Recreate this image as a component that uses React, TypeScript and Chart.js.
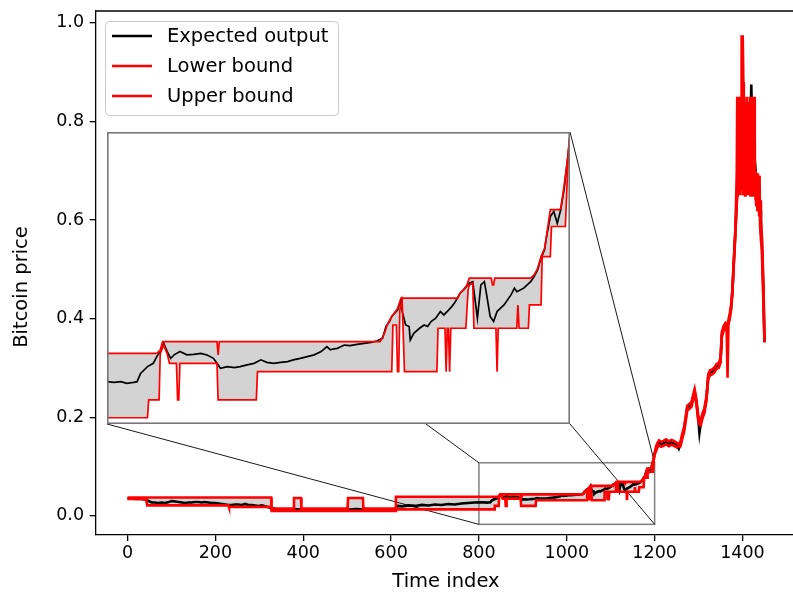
import React, { useEffect, useRef } from "react";
import { Chart, registerables } from "chart.js";

Chart.register(...registerables);

const FONT = "'DejaVu Sans', sans-serif";

const xTickValues = [0, 200, 400, 600, 800, 1000, 1200, 1400];
const yTickValues = [0, 0.2, 0.4, 0.6, 0.8, 1.0];
const legendLabels = ["Expected output", "Lower bound", "Upper bound"];
const axisTitles = { x: "Time index", y: "Bitcoin price" };

// zoomed window (index range) and the rectangle drawn on the main axes
const zoomIndexRange = [800, 1200];
const zoomRectValueRange = [-0.0174, 0.1075];
const insetValueRange = [0.0105, 0.127];

const expectedIndex = [
  0, 10, 20, 30, 40, 48, 55, 62, 70, 78,
  86, 94, 101, 108, 116, 124, 131, 139, 146, 154,
  161, 169, 176, 184, 192, 200, 207, 215, 222, 230,
  237, 245, 252, 260, 268, 275, 283, 290, 298, 306,
  315, 327, 340, 360, 380, 400, 420, 450, 480, 500,
  520, 550, 580, 600, 610, 615, 625, 640, 655, 670,
  685, 700, 715, 730, 745, 760, 775, 790,
  800, 806, 812, 817, 823, 826, 829, 835, 840, 843,
  846, 849, 852, 855, 858, 863, 869, 875, 881, 886,
  892, 895, 898, 904, 910, 915, 921, 927, 933, 938,
  944, 950, 956, 961, 967, 973, 979, 985, 990, 993,
  996, 999, 1005, 1010, 1016, 1022, 1028, 1033, 1038, 1041,
  1044, 1046, 1051, 1054, 1055, 1058, 1061, 1062, 1065, 1070,
  1074, 1077, 1080, 1084, 1088, 1091, 1094, 1098, 1101, 1105,
  1108, 1113, 1116, 1118, 1120, 1123, 1126, 1128, 1131, 1134,
  1137, 1143, 1149, 1152, 1154, 1157, 1160, 1163, 1166, 1169,
  1172, 1175, 1178, 1180, 1183, 1186, 1189, 1192, 1195, 1198,
  1200,
  1203, 1206, 1210, 1215, 1220, 1226, 1232, 1238, 1244, 1250,
  1255, 1259, 1263, 1267, 1271, 1274, 1279, 1284, 1288, 1291,
  1295, 1299, 1302, 1305, 1309, 1313, 1318, 1322, 1326, 1331,
  1336, 1341, 1346, 1350, 1353, 1357, 1361, 1365, 1368, 1371,
  1374, 1377, 1380, 1384, 1388, 1391, 1394, 1397, 1400, 1403,
  1406, 1409, 1412, 1415, 1418, 1420, 1422, 1425, 1428, 1431,
  1434, 1437, 1440, 1442, 1444, 1446, 1448, 1450,
];
const expectedValue = [
  0.035, 0.035, 0.034, 0.034, 0.033, 0.030, 0.027, 0.027, 0.026, 0.027,
  0.026, 0.028, 0.030, 0.029, 0.028, 0.027, 0.026, 0.027, 0.027, 0.028,
  0.028, 0.027, 0.028, 0.027, 0.026, 0.026, 0.025, 0.024, 0.023, 0.022,
  0.022, 0.023, 0.023, 0.022, 0.024, 0.022, 0.022, 0.021, 0.020, 0.021,
  0.019, 0.016, 0.013, 0.012, 0.0135, 0.012, 0.0125, 0.012, 0.013, 0.012,
  0.0135, 0.012, 0.0125, 0.013, 0.014, 0.020, 0.019, 0.021, 0.020, 0.022,
  0.021, 0.023, 0.022, 0.024, 0.023, 0.025, 0.026, 0.027,
  0.0274, 0.0271, 0.0274, 0.0267, 0.0271, 0.0274, 0.0307, 0.0334, 0.0347, 0.0374,
  0.0394, 0.0427, 0.0394, 0.0367, 0.0381, 0.0394, 0.0381, 0.0383, 0.0387, 0.0381,
  0.0367, 0.0347, 0.0327, 0.0334, 0.0330, 0.0334, 0.0341, 0.0347, 0.0361, 0.0351,
  0.0347, 0.0351, 0.0354, 0.0361, 0.0367, 0.0374, 0.0381, 0.0394, 0.0414, 0.0401,
  0.0405, 0.0407, 0.0420, 0.0418, 0.0423, 0.0427, 0.0431, 0.0436, 0.0447, 0.0494,
  0.0514, 0.0534, 0.0560, 0.0600, 0.0554, 0.0500, 0.0494, 0.0440, 0.0467, 0.0487,
  0.0500, 0.0494, 0.0514, 0.0527, 0.0554, 0.0540, 0.0554, 0.0574, 0.0594, 0.0627,
  0.0640, 0.0667, 0.0673, 0.0600, 0.0527, 0.0660, 0.0673, 0.0620, 0.0534, 0.0514,
  0.0554, 0.0580, 0.0620, 0.0647, 0.0633, 0.0640, 0.0647, 0.0660, 0.0673, 0.0693,
  0.0720, 0.0767, 0.0800, 0.0860, 0.0933, 0.0953, 0.0906, 0.0960, 0.1046, 0.1166,
  0.1259,
  0.135, 0.142, 0.148, 0.145, 0.147, 0.150, 0.146, 0.149, 0.147, 0.143,
  0.136, 0.146, 0.162, 0.175, 0.198, 0.218, 0.222, 0.226, 0.242, 0.252,
  0.232, 0.200, 0.168, 0.188, 0.203, 0.212, 0.238, 0.282, 0.290, 0.292,
  0.296, 0.303, 0.305, 0.315, 0.368, 0.380, 0.386, 0.381, 0.392, 0.405,
  0.422, 0.455, 0.510, 0.580, 0.660, 0.740, 0.800, 0.830, 0.820, 0.790,
  0.760, 0.720, 0.700, 0.690, 0.760, 0.875, 0.800, 0.760, 0.720, 0.690,
  0.680, 0.660, 0.620, 0.575, 0.560, 0.500, 0.440, 0.352,
];

const lowerIndex = [
  0, 42, 45, 230, 231, 327, 328, 610, 611, 835,
  836, 845, 846, 849, 852, 854, 860, 861, 862, 863,
  895, 896, 929, 930, 1046, 1047, 1050, 1051, 1052, 1053,
  1055, 1057, 1085, 1086, 1092, 1093, 1094, 1095, 1096, 1097,
  1110, 1112, 1113, 1116, 1117, 1136, 1137, 1138, 1154, 1155,
  1156, 1164, 1165, 1175, 1176, 1183, 1184, 1196, 1198, 1200,
  1203, 1206, 1210, 1215, 1220, 1226, 1232, 1238, 1244, 1250,
  1255, 1259, 1263, 1267, 1271, 1274, 1279, 1284, 1288, 1291,
  1295, 1299, 1302, 1305, 1309, 1313, 1318, 1322, 1326, 1331,
  1336, 1341, 1346, 1350, 1353, 1357, 1361, 1364, 1366, 1368,
  1371, 1374, 1377, 1380, 1384, 1387,
  1388, 1389, 1390, 1391, 1392, 1393, 1394, 1395, 1396, 1397,
  1398, 1399, 1400, 1401, 1402, 1403, 1404, 1405, 1406, 1407,
  1408, 1409, 1410, 1411, 1412, 1413, 1414, 1415, 1416, 1417,
  1418, 1419, 1420, 1421, 1422, 1423, 1424, 1425, 1426, 1427,
  1428, 1429, 1430, 1431, 1432, 1433, 1434, 1435, 1436, 1437,
  1438, 1439, 1440,
  1442, 1444, 1446, 1448, 1450,
];
const lowerValue = [
  0.034, 0.034, 0.021, 0.021, 0.018, 0.018, 0.010, 0.010, 0.013, 0.013,
  0.0201, 0.0201, 0.0387, 0.0420, 0.0385, 0.0347, 0.0347, 0.0201, 0.0201, 0.0347,
  0.0347, 0.0201, 0.0201, 0.0314, 0.0314, 0.0500, 0.0500, 0.0314, 0.0314, 0.0560,
  0.0595, 0.0314, 0.0314, 0.0487, 0.0487, 0.0314, 0.0487, 0.0487, 0.0314, 0.0487,
  0.0487, 0.0640, 0.0660, 0.0667, 0.0487, 0.0487, 0.0314, 0.0487, 0.0487, 0.0580,
  0.0487, 0.0487, 0.0580, 0.0580, 0.0773, 0.0773, 0.0893, 0.0893, 0.1120, 0.1259,
  0.130, 0.138, 0.143, 0.140, 0.142, 0.145, 0.141, 0.144, 0.142, 0.139,
  0.140, 0.141, 0.157, 0.170, 0.193, 0.213, 0.217, 0.221, 0.237, 0.247,
  0.227, 0.195, 0.185, 0.183, 0.198, 0.207, 0.233, 0.277, 0.285, 0.287,
  0.291, 0.298, 0.300, 0.310, 0.363, 0.375, 0.381, 0.376, 0.280, 0.387,
  0.400, 0.417, 0.450, 0.505, 0.575, 0.630,
  0.650, 0.780, 0.660, 0.790, 0.670, 0.770, 0.650, 0.780, 0.660, 0.790,
  0.700, 0.760, 0.650, 0.780, 0.670, 0.790, 0.660, 0.770, 0.650, 0.780,
  0.680, 0.790, 0.660, 0.770, 0.650, 0.780, 0.670, 0.790, 0.660, 0.770,
  0.650, 0.780, 0.680, 0.790, 0.660, 0.770, 0.650, 0.780, 0.670, 0.760,
  0.650, 0.680, 0.640, 0.690, 0.630, 0.680, 0.620, 0.690, 0.630, 0.680,
  0.610, 0.670, 0.590,
  0.560, 0.540, 0.480, 0.420, 0.352,
];

const upperIndex = [
  0, 327, 328, 378, 379, 395, 396, 501, 502, 536,
  537, 610, 611, 800, 843, 846, 848, 895, 896, 897,
  1036, 1040, 1042, 1046, 1051, 1054, 1103, 1105, 1108, 1111,
  1113, 1132, 1133, 1134, 1135, 1166, 1169, 1172, 1175, 1178,
  1180, 1183, 1191, 1192, 1195, 1198, 1200,
  1203, 1206, 1210, 1215, 1220, 1226, 1232, 1238, 1244, 1250,
  1255, 1259, 1263, 1267, 1271, 1274, 1279, 1284, 1288, 1291,
  1295, 1299, 1302, 1305, 1309, 1313, 1318, 1322, 1326, 1331,
  1336, 1341, 1346, 1350, 1353, 1357, 1361, 1364, 1366, 1368,
  1371, 1374, 1377, 1380, 1384, 1387,
  1388, 1389, 1390, 1391, 1392, 1393, 1394, 1395, 1396, 1397,
  1398, 1399, 1400, 1401, 1402, 1403, 1404, 1405, 1406, 1407,
  1408, 1409, 1410, 1411, 1412, 1413, 1414, 1415, 1416, 1417,
  1418, 1419, 1420, 1421, 1422, 1423, 1424, 1425, 1426, 1427,
  1428, 1429, 1430, 1431, 1432, 1433, 1434, 1435, 1436, 1437,
  1438, 1439, 1440,
  1442, 1444, 1446, 1448, 1450,
];
const upperValue = [
  0.037, 0.037, 0.0145, 0.0145, 0.036, 0.036, 0.0145, 0.0145, 0.036, 0.036,
  0.0145, 0.0145, 0.0385, 0.0387, 0.0387, 0.0400, 0.0434, 0.0434, 0.0381, 0.0434,
  0.0434, 0.0470, 0.0500, 0.0534, 0.0565, 0.0607, 0.0607, 0.0627, 0.0640, 0.0660,
  0.0687, 0.0687, 0.0660, 0.0660, 0.0687, 0.0687, 0.0700, 0.0725, 0.0773, 0.0805,
  0.0865, 0.0960, 0.0960, 0.0965, 0.1059, 0.1166, 0.1259,
  0.140, 0.147, 0.153, 0.150, 0.152, 0.155, 0.151, 0.154, 0.152, 0.148,
  0.146, 0.151, 0.167, 0.180, 0.203, 0.223, 0.227, 0.231, 0.247, 0.257,
  0.237, 0.205, 0.195, 0.193, 0.208, 0.217, 0.243, 0.287, 0.295, 0.297,
  0.301, 0.308, 0.310, 0.320, 0.373, 0.385, 0.391, 0.386, 0.390, 0.397,
  0.410, 0.427, 0.460, 0.515, 0.585, 0.700,
  0.850, 0.720, 0.850, 0.700, 0.840, 0.730, 0.850, 0.710, 0.850, 0.760,
  0.975, 0.900, 0.960, 0.975, 0.880, 0.850, 0.720, 0.840, 0.700, 0.830,
  0.720, 0.850, 0.700, 0.820, 0.710, 0.840, 0.700, 0.830, 0.720, 0.850,
  0.700, 0.840, 0.720, 0.850, 0.700, 0.850, 0.720, 0.840, 0.700, 0.850,
  0.710, 0.700, 0.695, 0.630, 0.695, 0.640, 0.695, 0.620, 0.690, 0.630,
  0.690, 0.620, 0.640,
  0.600, 0.570, 0.520, 0.460, 0.360,
];

// layout of the inset axes on the page (pixels)
const INSET = { left: 107, top: 132, width: 463, height: 292 };
const ULConnectorEnd = { x: 426, y: 424 };

function pts(xs: number[], ys: number[]) {
  return xs.map((x, i) => ({ x, y: ys[i] }));
}

function makeDatasets(lw: number) {
  return [
    {
      label: legendLabels[0],
      data: pts(expectedIndex, expectedValue),
      borderColor: "#000000",
      borderWidth: lw,
      pointRadius: 0,
      fill: false,
      tension: 0,
      order: 3,
    },
    {
      label: legendLabels[1],
      data: pts(lowerIndex, lowerValue),
      borderColor: "#ff0000",
      borderWidth: lw,
      pointRadius: 0,
      fill: false,
      tension: 0,
      order: 2,
    },
    {
      label: legendLabels[2],
      data: pts(upperIndex, upperValue),
      borderColor: "#ff0000",
      backgroundColor: "#d3d3d3",
      borderWidth: lw,
      pointRadius: 0,
      fill: 1,
      tension: 0,
      order: 1,
    },
  ];
}

const mainDecor = {
  id: "mainDecor",
  beforeDraw(chart: any) {
    const { ctx, width, height } = chart;
    ctx.save();
    ctx.fillStyle = "#ffffff";
    ctx.fillRect(0, 0, width, height);
    ctx.restore();
  },
  beforeDatasetsDraw(chart: any) {
    const { ctx, scales } = chart;
    const xs = scales.x;
    const ys = scales.y;
    const l = xs.getPixelForValue(zoomIndexRange[0]);
    const r = xs.getPixelForValue(zoomIndexRange[1]);
    const t = ys.getPixelForValue(zoomRectValueRange[1]);
    const b = ys.getPixelForValue(zoomRectValueRange[0]);
    ctx.save();
    ctx.strokeStyle = "#808080";
    ctx.lineWidth = 1.5;
    ctx.strokeRect(l, t, r - l, b - t);
    ctx.strokeStyle = "#000000";
    ctx.lineWidth = 0.9;
    const iL = INSET.left;
    const iR = INSET.left + INSET.width;
    const iT = INSET.top;
    const iB = INSET.top + INSET.height;
    const seg = (x1: number, y1: number, x2: number, y2: number) => {
      ctx.beginPath();
      ctx.moveTo(x1, y1);
      ctx.lineTo(x2, y2);
      ctx.stroke();
    };
    seg(l, b, iL, iB);
    seg(r, b, iR, iB);
    seg(r, t, iR, iT);
    seg(l, t, ULConnectorEnd.x, ULConnectorEnd.y);
    ctx.restore();
  },
  afterDraw(chart: any) {
    const { ctx, chartArea } = chart;
    ctx.save();
    // top spine
    ctx.strokeStyle = "#000000";
    ctx.lineWidth = 1.3;
    ctx.beginPath();
    ctx.moveTo(chartArea.left, chartArea.top);
    ctx.lineTo(chartArea.right, chartArea.top);
    ctx.stroke();

    // axis titles
    ctx.fillStyle = "#000000";
    ctx.font = `19.5px ${FONT}`;
    ctx.textAlign = "center";
    ctx.textBaseline = "middle";
    ctx.fillText(axisTitles.x, (chartArea.left + chartArea.right) / 2, 582);
    ctx.save();
    ctx.translate(22, 287);
    ctx.rotate(-Math.PI / 2);
    ctx.fillText(axisTitles.y, 0, 0);
    ctx.restore();

    // legend
    const bx = 105.5, by = 21.5, bw = 233, bh = 94, rad = 4;
    ctx.beginPath();
    ctx.moveTo(bx + rad, by);
    ctx.lineTo(bx + bw - rad, by);
    ctx.quadraticCurveTo(bx + bw, by, bx + bw, by + rad);
    ctx.lineTo(bx + bw, by + bh - rad);
    ctx.quadraticCurveTo(bx + bw, by + bh, bx + bw - rad, by + bh);
    ctx.lineTo(bx + rad, by + bh);
    ctx.quadraticCurveTo(bx, by + bh, bx, by + bh - rad);
    ctx.lineTo(bx, by + rad);
    ctx.quadraticCurveTo(bx, by, bx + rad, by);
    ctx.closePath();
    ctx.fillStyle = "rgba(255,255,255,0.8)";
    ctx.fill();
    ctx.strokeStyle = "#cccccc";
    ctx.lineWidth = 1;
    ctx.stroke();
    const colors = ["#000000", "#ff0000", "#ff0000"];
    legendLabels.forEach((lab, i) => {
      const yy = 36 + i * 30;
      ctx.strokeStyle = colors[i];
      ctx.lineWidth = 2.6;
      ctx.beginPath();
      ctx.moveTo(112, yy);
      ctx.lineTo(152, yy);
      ctx.stroke();
      ctx.fillStyle = "#000000";
      ctx.font = `19.5px ${FONT}`;
      ctx.textAlign = "left";
      ctx.textBaseline = "middle";
      ctx.fillText(lab, 167, yy + 1);
    });
    ctx.restore();
  },
};

const insetDecor = {
  id: "insetDecor",
  beforeDraw(chart: any) {
    const { ctx, width, height } = chart;
    ctx.save();
    ctx.fillStyle = "#ffffff";
    ctx.fillRect(0, 0, width, height);
    ctx.restore();
  },
  afterDraw(chart: any) {
    const { ctx, width, height } = chart;
    ctx.save();
    ctx.strokeStyle = "#777777";
    ctx.lineWidth = 1.6;
    ctx.strokeRect(0.8, 0.8, width - 1.6, height - 1.6);
    ctx.restore();
  },
};

export default function App() {
  const mainRef = useRef<HTMLCanvasElement>(null);
  const insetRef = useRef<HTMLCanvasElement>(null);

  useEffect(() => {
    if (!mainRef.current || !insetRef.current) return;
    const mainChart = new Chart(mainRef.current, {
      type: "line",
      data: { datasets: makeDatasets(2.6) as any },
      options: {
        responsive: false,
        animation: false,
        devicePixelRatio: 1,
        events: [],
        layout: { padding: { left: 0, right: 15.7, top: 11, bottom: 0 } },
        plugins: {
          legend: { display: false },
          tooltip: { enabled: false },
          filler: { drawTime: "beforeDatasetsDraw" },
        } as any,
        scales: {
          x: {
            type: "linear",
            min: -72.5,
            max: 1522.5,
            afterBuildTicks: (s: any) => {
              s.ticks = xTickValues.map((v) => ({ value: v }));
            },
            afterFit: (s: any) => {
              s.height = 59;
              s.paddingLeft = 0;
              s.paddingRight = 0;
            },
            grid: {
              display: true,
              drawOnChartArea: false,
              drawTicks: true,
              tickLength: 6,
              color: "#000000",
              lineWidth: 1.3,
            },
            border: { display: true, color: "#000000", width: 1.3 },
            ticks: {
              color: "#000000",
              font: { family: FONT, size: 17.5 },
              padding: 1.5,
              maxRotation: 0,
              autoSkip: false,
              callback: (v: any) => String(v),
            },
          },
          y: {
            type: "linear",
            min: -0.039,
            max: 1.024,
            afterBuildTicks: (s: any) => {
              s.ticks = yTickValues.map((v) => ({ value: v }));
            },
            afterFit: (s: any) => {
              s.width = 95.65;
              s.paddingTop = 0;
              s.paddingBottom = 0;
            },
            grid: {
              display: true,
              drawOnChartArea: false,
              drawTicks: true,
              tickLength: 6,
              color: "#000000",
              lineWidth: 1.3,
            },
            border: { display: true, color: "#000000", width: 1.3 },
            ticks: {
              color: "#000000",
              font: { family: FONT, size: 17.5 },
              padding: 5.6,
              autoSkip: false,
              callback: (v: any) => Number(v).toFixed(1),
            },
          },
        },
      } as any,
      plugins: [mainDecor],
    });

    const insetChart = new Chart(insetRef.current, {
      type: "line",
      data: { datasets: makeDatasets(1.7) as any },
      options: {
        responsive: false,
        animation: false,
        devicePixelRatio: 1,
        events: [],
        layout: { padding: 0 },
        plugins: {
          legend: { display: false },
          tooltip: { enabled: false },
          filler: { drawTime: "beforeDatasetsDraw" },
        } as any,
        scales: {
          x: { type: "linear", display: false, min: zoomIndexRange[0], max: zoomIndexRange[1] },
          y: { type: "linear", display: false, min: insetValueRange[0], max: insetValueRange[1] },
        },
      } as any,
      plugins: [insetDecor],
    });

    return () => {
      mainChart.destroy();
      insetChart.destroy();
    };
  }, []);

  return (
    <div
      style={{
        position: "fixed",
        left: 0,
        top: 0,
        width: 793,
        height: 594,
        overflow: "hidden",
        background: "#ffffff",
      }}
    >
      <canvas
        ref={mainRef}
        width={812}
        height={594}
        style={{ position: "absolute", left: 0, top: 0, width: 812, height: 594 }}
      />
      <canvas
        ref={insetRef}
        width={INSET.width}
        height={INSET.height}
        style={{
          position: "absolute",
          left: INSET.left,
          top: INSET.top,
          width: INSET.width,
          height: INSET.height,
        }}
      />
    </div>
  );
}
